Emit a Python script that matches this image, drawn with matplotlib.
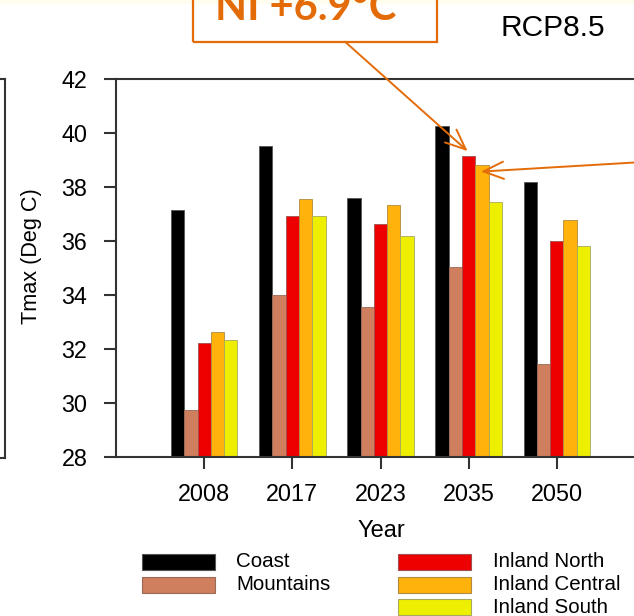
import matplotlib
matplotlib.use("Agg")
import matplotlib.pyplot as plt
import numpy as np
from matplotlib.patches import Rectangle
from matplotlib.lines import Line2D

# ---- data -------------------------------------------------------------
years = ["2008", "2017", "2023", "2035", "2050"]
regions = ["Coast", "Mountains", "Inland North", "Inland Central", "Inland South"]
coast = [37.15, 39.53, 37.60, 40.26, 38.17]
mountains = [29.74, 34.00, 33.57, 35.03, 31.46]
inland_north = [32.23, 36.94, 36.63, 39.15, 36.00]
inland_central = [32.62, 37.54, 37.35, 38.83, 36.77]
inland_south = [32.33, 36.91, 36.19, 37.43, 35.81]
yticks = [28, 30, 32, 34, 36, 38, 40, 42]
callout_text = "NI +6.9°C"
scenario = "RCP8.5"

series = [coast, mountains, inland_north, inland_central, inland_south]
colors = ["#000000", "#CF7E5E", "#EE0000", "#FFB20C", "#EEEE00"]
edges = ["#555555", "#9a6a58", "#a05050", "#b08a40", "#a8a860"]

W, H, DPI = 634, 616, 100
fig = plt.figure(figsize=(W / DPI, H / DPI), dpi=DPI)
plt.rcParams["font.family"] = ["Liberation Sans", "DejaVu Sans"]

def fx(px):
    return px / W

def fy(py):
    return 1 - py / H

# faint slide band along the top
fig.add_artist(Rectangle((0, fy(3.5)), 1, 3.5 / H, transform=fig.transFigure,
                         facecolor="#FFFEEE", edgecolor="none", zorder=0))

# neighbouring panel's frame on the left
for seg in [((fx(5), fx(5)), (fy(79), fy(458))),
            ((0, fx(5)), (fy(79), fy(79))),
            ((0, fx(5)), (fy(458), fy(458)))]:
    fig.add_artist(Line2D(seg[0], seg[1], transform=fig.transFigure,
                          color="#333333", lw=1.5))

left, right, top, bottom = 116, 645, 79, 457
ax = fig.add_axes([fx(left), fy(bottom), (right - left) / W, (bottom - top) / H])

x = np.arange(1, len(years) + 1)
bw = 0.151
for i, (vals, c, ec, name) in enumerate(zip(series, colors, edges, regions)):
    ax.bar(x + (i - 2) * bw, vals, width=bw, color=c, edgecolor=ec,
           linewidth=0.6, label=name, zorder=2)

ax.set_xlim(0, 6)
ax.set_ylim(28, 42)
ax.set_xticks(x)
ax.set_xticklabels(years, fontsize=16.8)
ax.set_yticks(yticks)
ax.set_yticklabels([str(t) for t in yticks], fontsize=16.8)
ax.tick_params(axis="both", direction="out", length=8.6, width=1.5, color="#333333")
ax.tick_params(axis="x", pad=10)
ax.tick_params(axis="y", pad=12)
for s in ["left", "top", "bottom", "right"]:
    ax.spines[s].set_color("#333333")
    ax.spines[s].set_linewidth(1.5)

fig.text(fx(381), fy(531), "Year", fontsize=17, ha="center", va="center")
fig.text(fx(32), fy(256), "Tmax (Deg C)", fontsize=15.6, rotation=90,
         ha="center", va="center")
fig.text(fx(553), fy(28), scenario, fontsize=21.5, ha="center", va="center")

# legend, two columns drawn as swatch + label
leg_rows = [(141.7, 561.5, 0), (141.7, 584.5, 1),
            (398.3, 561.5, 2), (398.3, 584.5, 3), (398.3, 607.3, 4)]
for lx, ly, i in leg_rows:
    fig.add_artist(Rectangle((fx(lx), fy(ly + 8)), 73 / W, 16 / H,
                             transform=fig.transFigure, facecolor=colors[i],
                             edgecolor=edges[i], linewidth=0.8))
    fig.text(fx(lx + 94.5), fy(ly), regions[i], fontsize=14.8,
             ha="left", va="center")

# callout box and arrows
orange = "#E36C09"
fig.add_artist(Rectangle((fx(193), fy(41.7)), (437 - 193) / W, 60 / H,
                         transform=fig.transFigure, facecolor="none",
                         edgecolor=orange, linewidth=1.6, zorder=5))
fig.text(fx(306), fy(20), callout_text, fontsize=30, fontweight="bold",
         color=orange, ha="center", va="baseline", family="Lato", zorder=6)

arrow_style = "->,head_length=1.45,head_width=0.62"
ax.annotate("", xy=(4 - 0.012, 39.15 + 0.18), xycoords="data",
            xytext=(345, H - 41.7), textcoords="figure pixels",
            arrowprops=dict(arrowstyle=arrow_style,
                            color=orange, lw=1.4, shrinkA=0, shrinkB=0),
            annotation_clip=False, zorder=6)
ax.annotate("", xy=(4 + bw - 0.012, 38.83 - 0.26), xycoords="data",
            xytext=(660, H - 161.0), textcoords="figure pixels",
            arrowprops=dict(arrowstyle=arrow_style,
                            color=orange, lw=1.4, shrinkA=0, shrinkB=0),
            annotation_clip=False, zorder=6)

fig.savefig("out.png", dpi=DPI)
